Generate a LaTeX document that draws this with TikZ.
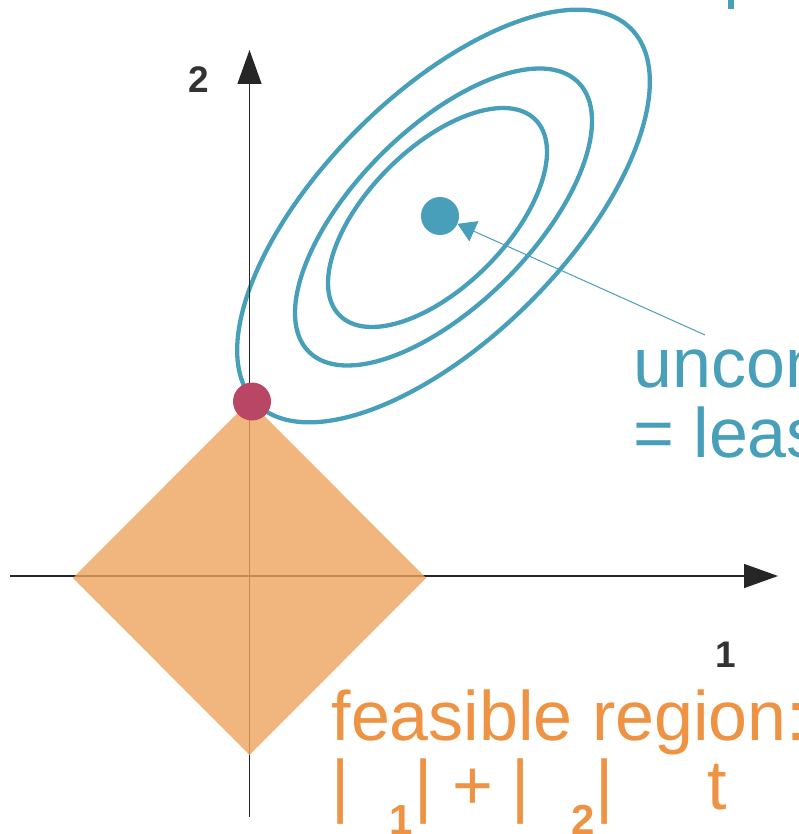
\documentclass[tikz,border=0pt]{standalone}
\usepackage{fontspec}
\setmainfont{Liberation Sans}
\usetikzlibrary{arrows.meta}
\definecolor{cblue}{HTML}{489FBA}
\definecolor{corange}{HTML}{EE9343}
\definecolor{cdiamond}{HTML}{EEA25E}
\definecolor{cred}{HTML}{BA4665}
\definecolor{caxis}{HTML}{333333}
\tikzset{
  contour/.style={draw=cblue, line width=4.3pt},
  axisline/.style={draw=black!85, line width=1.4pt, -{Triangle[length=34pt,width=24pt]}},
  dot/.style={circle, inner sep=0pt, minimum size=38pt},
  bigtext/.style={inner sep=0pt, anchor=base west, font=\fontsize{70}{70}\selectfont},
  feas/.style={inner sep=0pt, anchor=base, text=corange, font=\fontsize{70}{70}\selectfont},
  feassub/.style={inner sep=0pt, anchor=base, text=corange, font=\fontsize{42}{42}\selectfont\bfseries},
  axlabel/.style={inner sep=0pt, anchor=base, text=caxis, font=\fontsize{37}{37}\selectfont\bfseries}
}
\begin{document}
\begin{tikzpicture}[x=1pt,y=-1pt]
\useasboundingbox (0,0) rectangle (799,834);
\clip (0,0) rectangle (799,834);
% contours
\draw[contour, rotate around={45:(443.5,216)}] (443.5,216) ellipse [x radius=265, y radius=122];
\draw[contour, rotate around={45:(443.5,217)}] (443.5,217) ellipse [x radius=190.5, y radius=88.3];
\draw[contour, rotate around={45:(437.5,217.5)}] (437.5,217.5) ellipse [x radius=138.4, y radius=69.4];
% axes
\coordinate (xs) at (10,576);
\coordinate (xe) at (778,576);
\coordinate (ys) at (249.5,817);
\coordinate (ye) at (249.5,50);
\draw[axisline] (xs) -- (xe);
\draw[axisline] (ys) -- (ye);
% feasible region
\fill[cdiamond, fill opacity=0.8] (73,578) -- (249.5,401) -- (426,578) -- (249.5,755) -- cycle;
% dots
\node[dot, fill=cred] (rdot) at (252,401.5) {};
\node[dot, fill=cblue] (bdot) at (440,216) {};
\coordinate (lbl) at (705,335);
\draw[cblue, line width=1pt, -{Triangle[length=18pt,width=22pt]}] (lbl) -- (bdot);
\fill[cblue] (728,0) rectangle (734,9);
% axis labels
\node[axlabel] (l2) at (199,93) {2};
\node[axlabel] (l1) at (725.5,667) {1};
% texts
\node[bigtext, text=cblue] (u1) at (633.5,387) {unconstrained};
\node[bigtext, text=cblue] (u2) at (633,457) {= least squares};
\node[bigtext, text=corange] (f1) at (331.4,740) {feasible region:};
\node[feas] (b1) at (341,809) {|};
\node[feassub] (s1) at (401.5,834) {1};
\node[feas] (b2) at (424,809) {|};
\node[feas] (pl) at (472.5,809) {+};
\node[feas] (b3) at (521,809) {|};
\node[feassub] (s2) at (583,834) {2};
\node[feas] (b4) at (604.5,809) {|};
\node[feas] (tt) at (717.5,809) {t};
\end{tikzpicture}
\end{document}
